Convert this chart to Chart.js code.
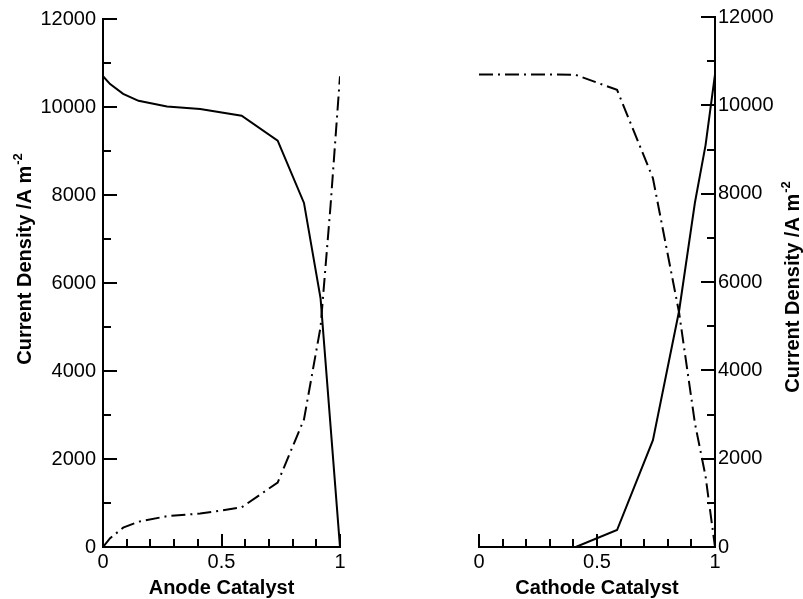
<!DOCTYPE html>
<html>
<head>
<meta charset="utf-8">
<script src="https://cdn.jsdelivr.net/npm/chart.js@4.4.1/dist/chart.umd.min.js"></script>
<style>
  body { margin: 0; background: #fff; }
  canvas { position: absolute; left: 0; top: 0; }
</style>
</head>
<body>
<canvas id="anodeChart" width="803" height="599"></canvas>
<canvas id="cathodeChart" width="803" height="599"></canvas>
<script>
// values
const anodeX = [0, 0.03, 0.085, 0.15, 0.27, 0.41, 0.585, 0.737, 0.848, 0.918, 0.96, 1]
const anodeSolid = [10700, 10520, 10300, 10140, 10010, 9955, 9800, 9235, 7820, 5650, 2760, 0]
const anodeDashDot = [0, 200, 440, 575, 700, 760, 900, 1465, 2900, 5000, 7750, 10700]

const cathodeX = [0, 0.085, 0.15, 0.27, 0.41, 0.585, 0.737, 0.848, 0.915, 0.96, 1]
const cathodeSolid = [0, 0, 0, 0, 0, 385, 2420, 5350, 7800, 9100, 10700]
const cathodeDashDot = [10700, 10700, 10700, 10700, 10690, 10350, 8350, 5300, 2800, 1600, 0]

const xTickLabels = ['0', '0.5', '1']
const yTickLabels = ['0', '2000', '4000', '6000', '8000', '10000', '12000']
const yTitle = 'Current Density /A m'
const yTitleSup = '-2'

const FONT = '"Liberation Sans", Arial, Helvetica, sans-serif'
Chart.defaults.font.family = FONT
Chart.defaults.color = '#000'

function points(xs, ys) {
  return xs.map((x, i) => ({ x: x, y: ys[i] }))
}
function isMajorX(v) { return Math.abs(v * 2 - Math.round(v * 2)) < 1e-6 }
function xLabel(v) { return isMajorX(v) ? xTickLabels[Math.round(v * 2)] : '' }
function isMajorY(v) { return Math.round(v) % 2000 === 0 }
function yLabel(v) { return isMajorY(v) ? yTickLabels[Math.round(v / 2000)] : '' }

// tick marks point into the plot
const inwardTicks = {
  id: 'inwardTicks',
  afterDatasetsDraw(chart, args, opts) {
    const ctx = chart.ctx
    const area = chart.chartArea
    const xs = chart.scales.x, ys = chart.scales.y
    ctx.save()
    ctx.strokeStyle = '#000'
    ctx.lineWidth = 2
    ctx.beginPath()
    xs.ticks.forEach(t => {
      const px = Math.round(xs.getPixelForValue(t.value))
      const len = isMajorX(t.value) ? 13 : 8
      ctx.moveTo(px, area.bottom)
      ctx.lineTo(px, area.bottom - len)
    })
    const ax = opts.side === 'left' ? area.left : area.right
    const dir = opts.side === 'left' ? 1 : -1
    ys.ticks.forEach(t => {
      const py = Math.round(ys.getPixelForValue(t.value))
      const len = isMajorY(t.value) ? 14 : 8
      ctx.moveTo(ax, py)
      ctx.lineTo(ax + dir * len, py)
    })
    ctx.stroke()
    ctx.restore()
  }
}

const panelTitles = {
  id: 'panelTitles',
  afterDraw(chart, args, opts) {
    const ctx = chart.ctx
    const area = chart.chartArea
    ctx.save()
    ctx.fillStyle = '#000'
    ctx.font = 'bold 20px ' + FONT
    ctx.textAlign = 'center'
    ctx.textBaseline = 'alphabetic'
    ctx.fillText(opts.xTitle, (area.left + area.right) / 2, 594)

    // rotated y title with superscript
    ctx.translate(opts.yx, opts.yy)
    ctx.rotate(-Math.PI / 2)
    ctx.textAlign = 'left'
    ctx.font = 'bold 20px ' + FONT
    const w1 = ctx.measureText(yTitle).width
    ctx.font = 'bold 13px ' + FONT
    const w2 = ctx.measureText(yTitleSup).width
    const start = -(w1 + w2 + 1) / 2
    ctx.font = 'bold 20px ' + FONT
    ctx.fillText(yTitle, start, 0)
    ctx.font = 'bold 13px ' + FONT
    ctx.fillText(yTitleSup, start + w1 + 1, -9)
    ctx.restore()
  }
}

function makeChart(id, xs, solid, dashDot, side, xTitle, yx, yy) {
  const tickFont = { size: 20, family: FONT }
  return new Chart(document.getElementById(id), {
    type: 'line',
    data: {
      datasets: [
        { data: points(xs, solid), borderColor: '#000', borderWidth: 2, pointRadius: 0, tension: 0, fill: false },
        { data: points(xs, dashDot), borderColor: '#000', borderWidth: 2, borderDash: [14, 5, 2, 5], pointRadius: 0, tension: 0, fill: false }
      ]
    },
    options: {
      responsive: false,
      animation: false,
      events: [],
      layout: {
        padding: side === 'left'
          ? { left: 0, top: 17, right: 463, bottom: 0 }
          : { left: 479, top: 17, right: 0, bottom: 0 }
      },
      plugins: {
        legend: { display: false },
        tooltip: { enabled: false },
        inwardTicks: { side: side },
        panelTitles: { xTitle: xTitle, yx: yx, yy: yy }
      },
      scales: {
        x: {
          type: 'linear', min: 0, max: 1,
          ticks: { stepSize: 0.1, autoSkip: false, maxRotation: 0, padding: 3, color: '#000', font: tickFont, callback: xLabel },
          grid: { drawOnChartArea: false, drawTicks: false },
          border: { color: '#000', width: 2 },
          afterFit: s => { s.height = 52 }
        },
        y: {
          type: 'linear', position: side, min: 0, max: 12000,
          ticks: { stepSize: 1000, autoSkip: false, padding: side === 'left' ? 7 : 3, color: '#000', font: tickFont, callback: yLabel },
          grid: { drawOnChartArea: false, drawTicks: false },
          border: { color: '#000', width: 2 },
          afterFit: s => { s.width = side === 'left' ? 103 : 88 }
        }
      }
    },
    plugins: [inwardTicks, panelTitles]
  })
}

makeChart('anodeChart', anodeX, anodeSolid, anodeDashDot, 'left', 'Anode Catalyst', 31, 259)
makeChart('cathodeChart', cathodeX, cathodeSolid, cathodeDashDot, 'right', 'Cathode Catalyst', 799, 287)
</script>
</body>
</html>
